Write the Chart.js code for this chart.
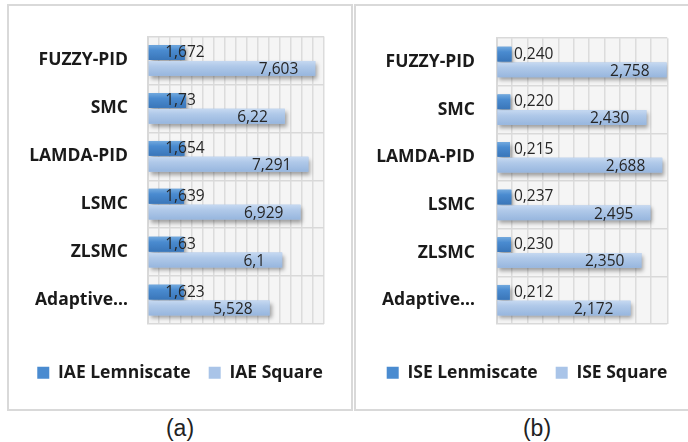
<!DOCTYPE html>
<html lang="en">
<head>
<meta charset="UTF-8">
<title>IAE / ISE</title>
<script src="https://cdn.jsdelivr.net/npm/chart.js"></script>
<style>
    body {
        margin: 0;
        width: 688px;
        height: 442px;
        overflow: hidden;
        background: #fff;
        position: relative;
        font-family: "Liberation Sans", Arial, sans-serif;
    }
    .panel {
        position: absolute;
        top: 4px;
        width: 346px;
        height: 407px;
        box-sizing: border-box;
        border: 2px solid #d9d9d9;
    }
    #panelA { left: 7px; }
    #panelB { left: 354px; }
    .panel canvas { position: absolute; left: 0; top: 0; }
    .caption {
        position: absolute;
        top: 414px;
        width: 60px;
        text-align: center;
        font-size: 23px;
        line-height: 28px;
        color: #222;
    }
</style>
</head>
<body>

<div class="panel" id="panelA"><canvas id="iaeChart" width="342" height="403"></canvas></div>
<div class="panel" id="panelB"><canvas id="iseChart" width="342" height="403"></canvas></div>
<div class="caption" style="left:150px">(a)</div>
<div class="caption" style="left:507px">(b)</div>

<script>
    const controllers = ['FUZZY-PID', 'SMC', 'LAMDA-PID', 'LSMC', 'ZLSMC', 'Adaptive…'];

    const iaeLemniscate = [1.672, 1.73, 1.654, 1.639, 1.63, 1.623];
    const iaeSquare = [7.603, 6.22, 7.291, 6.929, 6.1, 5.528];

    const iseLemniscate = [0.240, 0.220, 0.215, 0.237, 0.230, 0.212];
    const iseSquare = [2.758, 2.430, 2.688, 2.495, 2.350, 2.172];

    const darkBlue = '#4a8bd0';
    const lightBlue = '#a9c4e8';
    const shades = [
        ['#72a9de', '#4a8bd0', '#3a76b9'],
        ['#c6d9f1', '#b0c9e9', '#97b6de']
    ];

    // light grey back wall behind the grid
    const wall = {
        id: 'wall',
        beforeDraw(chart) {
            const a = chart.chartArea;
            chart.ctx.save();
            chart.ctx.fillStyle = '#f5f5f5';
            chart.ctx.fillRect(a.left, a.top, a.right - a.left, a.bottom - a.top);
            chart.ctx.restore();
        }
    };

    // drop shadow under the bars, then a vertical gradient over each one
    const barShade = {
        id: 'barShade',
        beforeDatasetsDraw(chart) {
            const ctx = chart.ctx;
            ctx.save();
            ctx.shadowColor = 'rgba(0,0,0,0.35)';
            ctx.shadowBlur = 4;
            ctx.shadowOffsetX = 2;
            ctx.shadowOffsetY = 3;
        },
        afterDatasetsDraw(chart) {
            const ctx = chart.ctx;
            ctx.restore();
            ctx.save();
            chart.data.datasets.forEach((ds, i) => {
                const s = shades[i];
                chart.getDatasetMeta(i).data.forEach(bar => {
                    const p = bar.getProps(['x', 'y', 'base', 'height'], true);
                    const top = p.y - p.height / 2;
                    const g = ctx.createLinearGradient(0, top, 0, top + p.height);
                    g.addColorStop(0, s[0]);
                    g.addColorStop(0.35, s[1]);
                    g.addColorStop(1, s[2]);
                    ctx.fillStyle = g;
                    ctx.fillRect(p.base, top, p.x - p.base, p.height);
                });
            });
            ctx.restore();
        }
    };

    // value labels: first series after the base, second series inside the bar end
    const valueLabels = {
        id: 'valueLabels',
        afterDatasetsDraw(chart, args, opts) {
            const ctx = chart.ctx;
            ctx.save();
            ctx.font = '15.5px "Open Sans"';
            ctx.fillStyle = '#262626';
            ctx.textBaseline = 'middle';
            chart.data.datasets.forEach((ds, i) => {
                chart.getDatasetMeta(i).data.forEach((bar, j) => {
                    const p = bar.getProps(['x', 'y', 'base'], true);
                    const txt = opts.format(ds.data[j]);
                    if (i === 0) {
                        ctx.textAlign = 'left';
                        ctx.fillText(txt, p.base + 16.5, p.y);
                    } else {
                        ctx.textAlign = 'right';
                        ctx.fillText(txt, p.x - 17, p.y + 1.5);
                    }
                });
            });
            ctx.restore();
        }
    };

    function criarPainel(id, nomes, serieA, serieB, cfg) {
        return new Chart(document.getElementById(id), {
            type: 'bar',
            data: {
                labels: controllers,
                datasets: [
                    { label: nomes[0], data: serieA, backgroundColor: darkBlue, borderWidth: 0 },
                    { label: nomes[1], data: serieB, backgroundColor: lightBlue, borderWidth: 0 }
                ]
            },
            options: {
                indexAxis: 'y',
                responsive: false,
                animation: false,
                devicePixelRatio: 1,
                categoryPercentage: 0.66,
                barPercentage: 0.94,
                layout: { padding: { top: cfg.top, right: 0, bottom: 17.5, left: 0 } },
                scales: {
                    x: {
                        min: 0,
                        max: cfg.max,
                        ticks: { display: false, stepSize: cfg.step },
                        grid: { color: '#dcdcdc', lineWidth: 1.5, drawTicks: false },
                        border: { display: false },
                        afterFit: s => { s.height = 22; }
                    },
                    y: {
                        ticks: {
                            padding: cfg.pad,
                            color: '#1a1a1a',
                            font: { family: 'Open Sans', size: 17.5, weight: 'bold' }
                        },
                        grid: { color: '#d9d9d9', lineWidth: 1.5, drawTicks: false },
                        border: { color: '#d9d9d9', width: 2 },
                        afterFit: s => { s.width = cfg.yWidth; }
                    },
                    yRight: {
                        type: 'category',
                        position: 'right',
                        ticks: { display: false },
                        grid: { display: false },
                        border: { display: false },
                        afterFit: s => { s.width = cfg.right; }
                    }
                },
                plugins: {
                    legend: {
                        position: 'bottom',
                        labels: {
                            boxWidth: 12,
                            boxHeight: 12,
                            padding: 18,
                            color: '#1a1a1a',
                            font: { family: 'Open Sans', size: 17.5, weight: 'bold' }
                        }
                    },
                    tooltip: { enabled: false },
                    valueLabels: { format: cfg.format }
                }
            },
            plugins: [wall, barShade, valueLabels]
        });
    }

    criarPainel('iaeChart', ['IAE Lemniscate', 'IAE Square'], iaeLemniscate, iaeSquare, {
        max: 8, step: 0.5, top: 27, right: 27, yWidth: 139, pad: 20,
        format: v => String(v).replace('.', ',')
    });

    criarPainel('iseChart', ['ISE Lenmiscate', 'ISE Square'], iseLemniscate, iseSquare, {
        max: 2.77, step: 0.25, top: 26, right: 30.7, yWidth: 140.7, pad: 21.7,
        format: v => v.toFixed(3).replace('.', ',')
    });
</script>

</body>
</html>
